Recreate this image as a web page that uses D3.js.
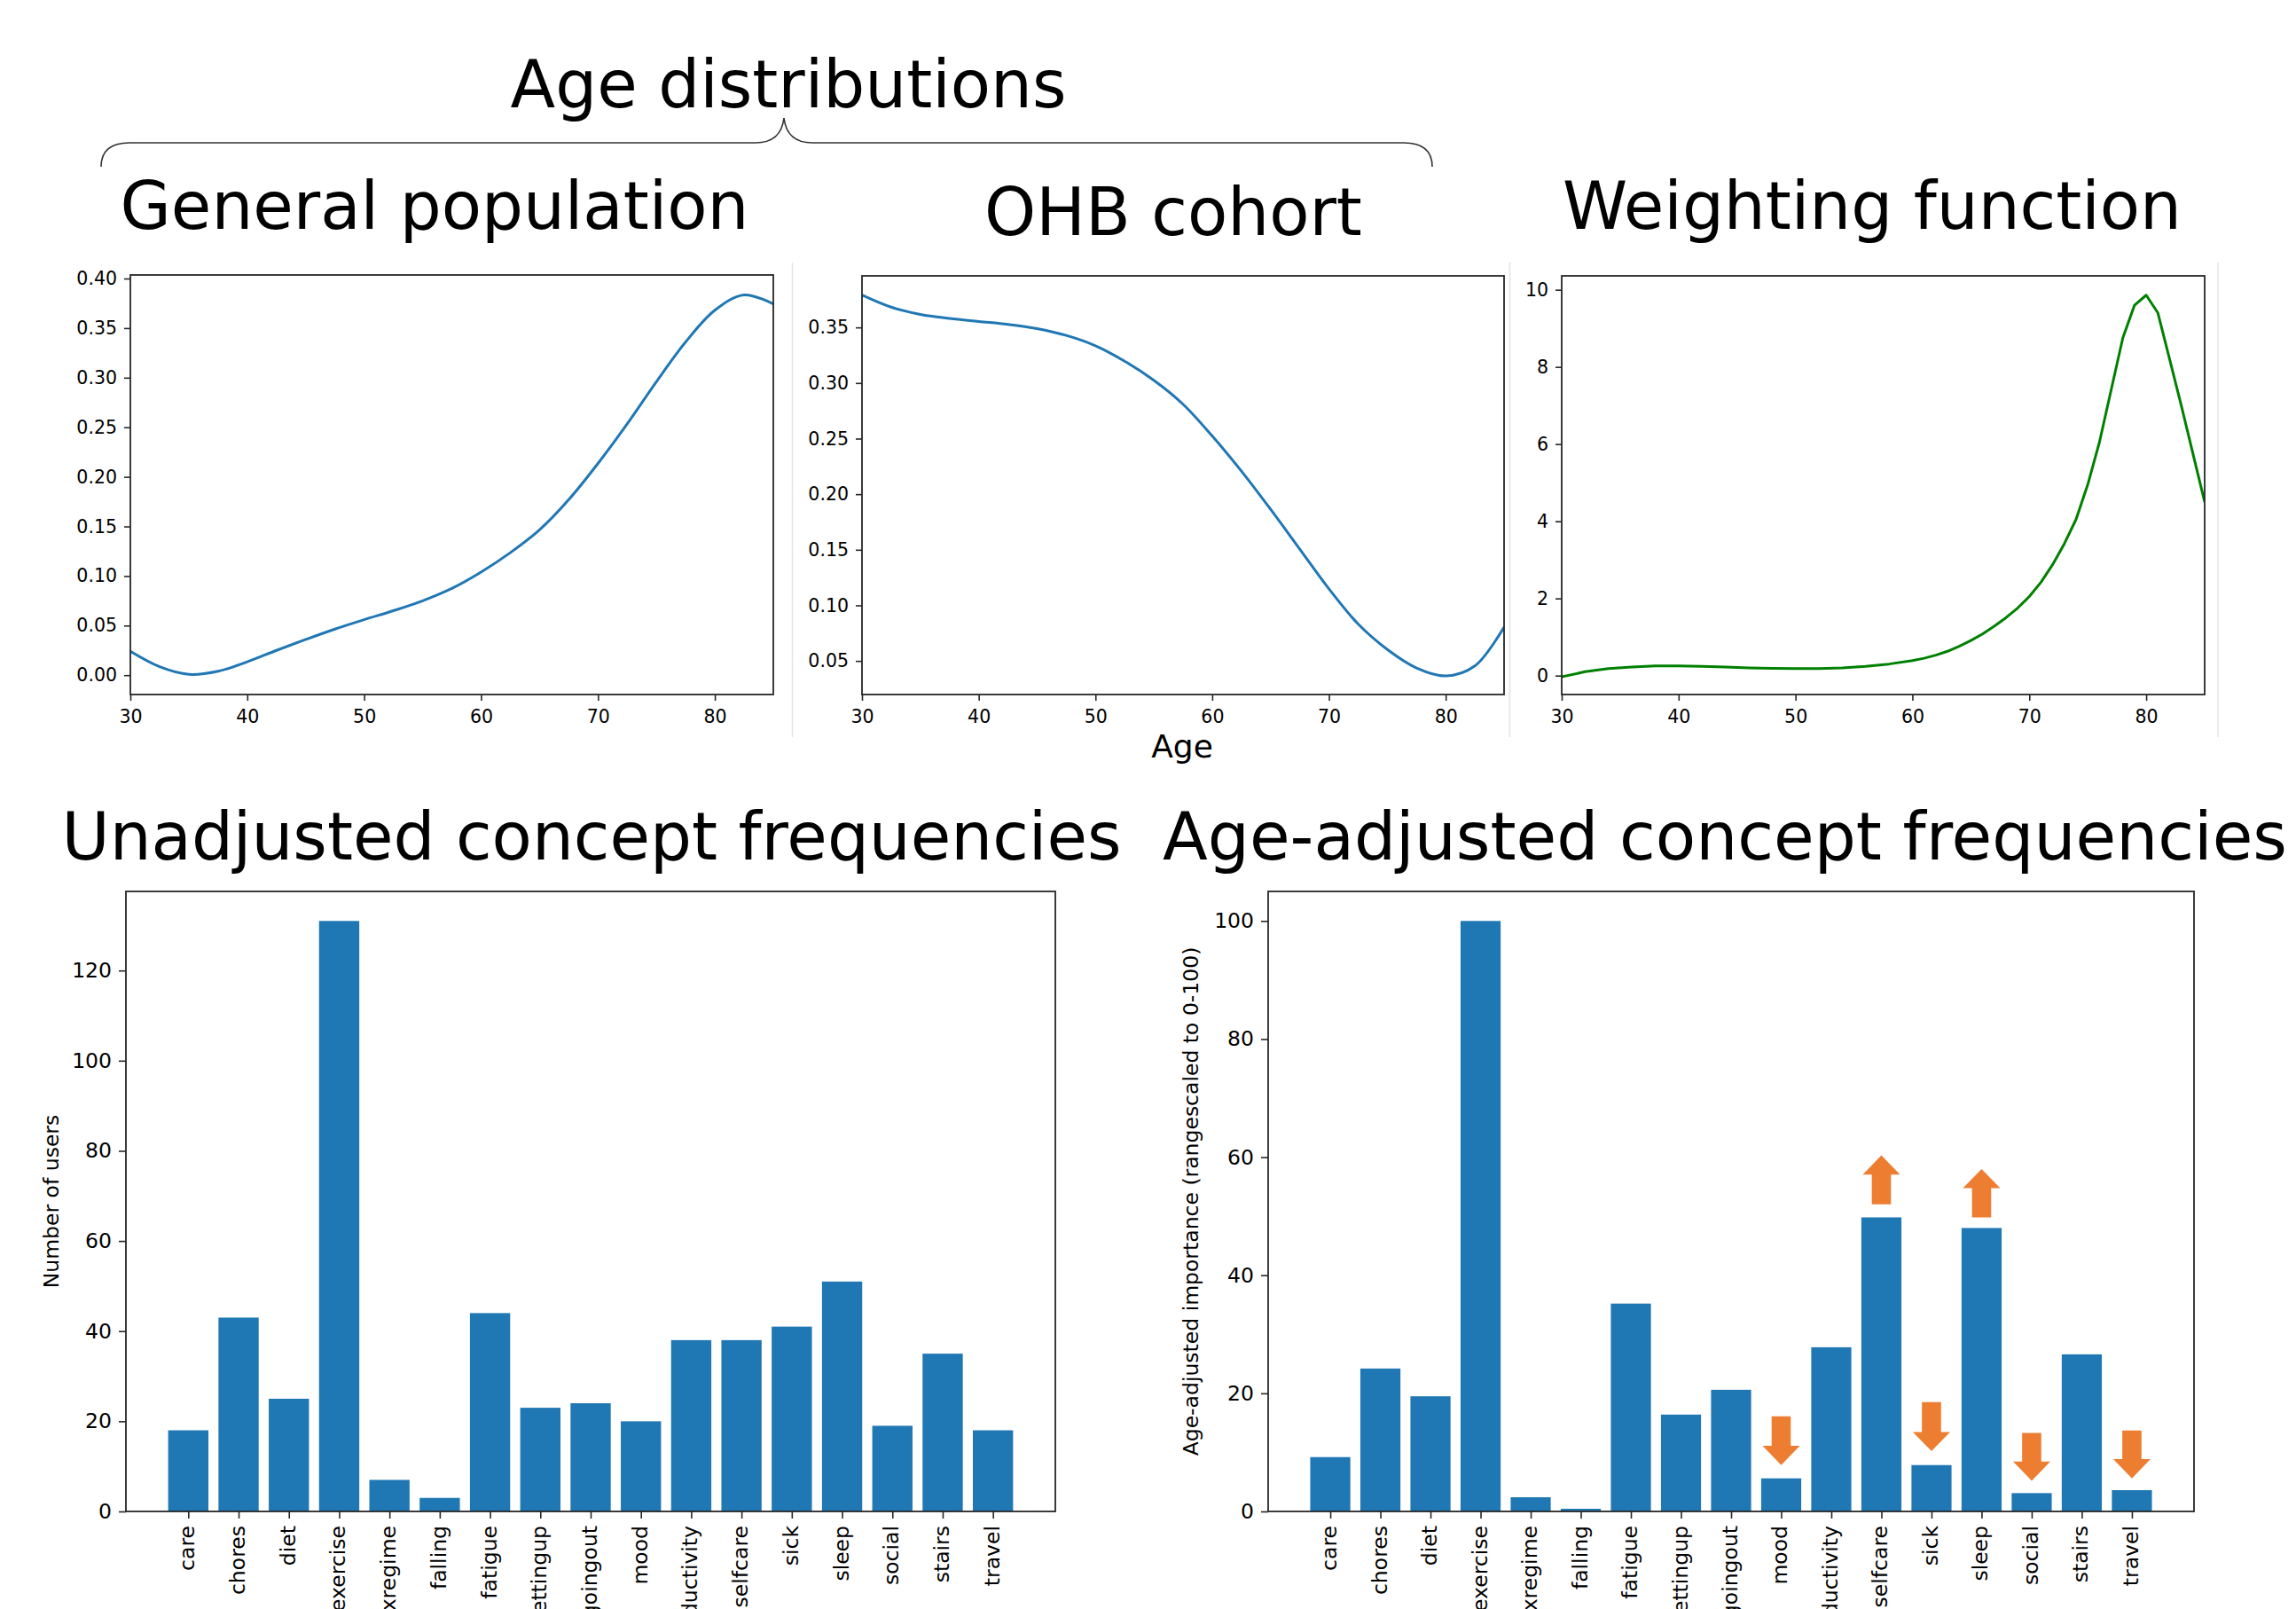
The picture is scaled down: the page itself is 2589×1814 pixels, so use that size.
<!DOCTYPE html>
<html>
<head>
<meta charset="utf-8">
<script src="https://cdn.jsdelivr.net/npm/d3@7"></script>
<style>
  html, body { margin: 0; padding: 0; background: #fff; }
  svg { display: block; }
  text { font-family: "DejaVu Sans", sans-serif; fill: #000; }
</style>
</head>
<body>
<svg id="chart" width="2589" height="1814"></svg>
<script>
// ---------------- DATA ----------------
const genPopAges = [30, 32.5, 35, 37.5, 40, 42.5, 45, 47.5, 50, 52.5, 55, 57.5, 60, 62.5, 65, 67.5, 70, 72.5, 75, 77.5, 80, 82.5, 85];
const genPopDensity = [0.024, 0.0085, 0.0008, 0.004, 0.0135, 0.025, 0.036, 0.0465, 0.056, 0.065, 0.075, 0.0875, 0.104, 0.1235, 0.1465, 0.177, 0.2135, 0.2535, 0.296, 0.336, 0.368, 0.3835, 0.3744];

const ohbAges = [30, 32.5, 35, 37.5, 40, 42.5, 45, 47.5, 50, 52.5, 55, 57.5, 60, 62.5, 65, 67.5, 70, 72.5, 75, 77.5, 80, 82.5, 85];
const ohbDensity = [0.3792, 0.3683, 0.3617, 0.3581, 0.3554, 0.3528, 0.3490, 0.3428, 0.3335, 0.3196, 0.3024, 0.2809, 0.2523, 0.2208, 0.1864, 0.1506, 0.1148, 0.0832, 0.0603, 0.0437, 0.0365, 0.0455, 0.0804];

const weightAges = [30, 32, 34, 36, 38, 40, 42, 44, 46, 48, 50, 52, 54, 56, 58, 60, 61, 62, 63, 64, 65, 66, 67, 68, 69, 70, 71, 72, 73, 74, 75, 76, 77, 78, 79, 80, 81, 82, 83, 84, 85];
const weightValues = [-0.03, 0.1, 0.18, 0.22, 0.25, 0.25, 0.24, 0.22, 0.2, 0.19, 0.18, 0.18, 0.2, 0.24, 0.3, 0.39, 0.45, 0.53, 0.63, 0.76, 0.91, 1.08, 1.28, 1.5, 1.75, 2.05, 2.42, 2.88, 3.42, 4.05, 4.95, 6.05, 7.4, 8.75, 9.6, 9.86, 9.4, 8.2, 7.0, 5.75, 4.5];

const ageTicks = [30, 40, 50, 60, 70, 80];
const genPopTicks = [0.00, 0.05, 0.10, 0.15, 0.20, 0.25, 0.30, 0.35, 0.40];
const ohbTicks = [0.05, 0.10, 0.15, 0.20, 0.25, 0.30, 0.35];
const weightTicks = [0, 2, 4, 6, 8, 10];

const concepts = ["care", "chores", "diet", "exercise", "exregime", "falling", "fatigue", "gettingup", "goingout", "mood", "productivity", "selfcare", "sick", "sleep", "social", "stairs", "travel"];
const unadjustedUsers = [18, 43, 25, 131, 7, 3, 44, 23, 24, 20, 38, 38, 41, 51, 19, 35, 18];
const adjustedImportance = [9.2, 24.2, 19.5, 100, 2.4, 0.45, 35.2, 16.4, 20.6, 5.6, 27.8, 49.8, 7.85, 48.0, 3.1, 26.6, 3.6];
const usersTicks = [0, 20, 40, 60, 80, 100, 120];
const importanceTicks = [0, 20, 40, 60, 80, 100];

// change arrows on the age-adjusted chart: concept, start value, end value
const arrowConcepts = ["mood", "selfcare", "sick", "sleep", "social", "travel"];
const arrowStart = [16.1, 52.0, 18.5, 49.8, 13.3, 13.7];
const arrowEnd = [7.85, 60.3, 10.2, 58.0, 5.2, 5.6];

// ---------------- STYLE / LAYOUT ----------------
const BLUE = "#1f77b4", GREEN = "#008000", ORANGE = "#ed7d31";
const svg = d3.select("#chart");

const P1 = {l: 147, r: 872, t: 310, b: 783};
const P2 = {l: 972, r: 1696, t: 311, b: 783};
const P3 = {l: 1761, r: 2486, t: 311, b: 783};
const B1 = {l: 142, r: 1190, t: 1005, b: 1704};
const B2 = {l: 1430, r: 2474, t: 1005, b: 1704};

// separators between the top sub-figures
[893.5, 1702.5, 2501].forEach(x => {
  svg.append("line").attr("x1", x).attr("x2", x).attr("y1", 296).attr("y2", 831)
    .attr("stroke", "#e4e4e4").attr("stroke-width", 1.5);
});

// titles
function title(txt, x, y, size, len) {
  const t = svg.append("text").attr("x", x).attr("y", y).attr("text-anchor", "middle")
    .attr("font-size", size).text(txt);
  if (len) t.attr("textLength", len).attr("lengthAdjust", "spacingAndGlyphs");
  return t;
}
title("Age distributions", 889, 121, 74);
title("General population", 490, 258, 74);
title("OHB cohort", 1323, 265, 74);
title("Weighting function", 2111, 258, 74);
title("Unadjusted concept frequencies", 667, 969, 74);
title("Age-adjusted concept frequencies", 1945, 969, 74, 1268);
title("Age", 1333, 854, 36);

// curly brace
svg.append("path")
  .attr("d", "M114,188 C114,170 124,161 146,161 L852,161 C872,161 882,150 884,133 C886,150 896,161 916,161 L1583,161 C1605,161 1615,170 1615,188")
  .attr("fill", "none").attr("stroke", "#333").attr("stroke-width", 1.6);

function spine(box) {
  svg.append("rect").attr("x", box.l).attr("y", box.t)
    .attr("width", box.r - box.l).attr("height", box.b - box.t)
    .attr("fill", "none").attr("stroke", "#262626").attr("stroke-width", 1.8);
}

function styleAxis(g, size) {
  g.select(".domain").remove();
  g.selectAll(".tick line").attr("stroke", "#262626").attr("stroke-width", 1.6);
  g.selectAll(".tick text").attr("font-size", size).attr("fill", "#000")
    .style("font-family", "'DejaVu Sans', sans-serif");
}

function linePanel(box, ages, vals, yDomain, yTicks, yFmt, color, curve) {
  const x = d3.scaleLinear().domain([30, 85]).range([box.l, box.r]);
  const y = d3.scaleLinear().domain(yDomain).range([box.b, box.t]);
  const gx = svg.append("g").attr("transform", `translate(0,${box.b})`)
    .call(d3.axisBottom(x).tickValues(ageTicks).tickSize(7).tickPadding(10).tickFormat(d3.format("d")));
  styleAxis(gx, 20.5);
  const gy = svg.append("g").attr("transform", `translate(${box.l},0)`)
    .call(d3.axisLeft(y).tickValues(yTicks).tickSize(7).tickPadding(8).tickFormat(yFmt));
  styleAxis(gy, 20.5);
  const clipId = "clip" + box.l;
  svg.append("clipPath").attr("id", clipId).append("rect")
    .attr("x", box.l).attr("y", box.t).attr("width", box.r - box.l).attr("height", box.b - box.t);
  const pts = ages.map((a, i) => [a, vals[i]]);
  svg.append("path").attr("clip-path", `url(#${clipId})`)
    .attr("d", d3.line().x(d => x(d[0])).y(d => y(d[1])).curve(curve)(pts))
    .attr("fill", "none").attr("stroke", color).attr("stroke-width", 3)
    .attr("stroke-linejoin", "round");
  spine(box);
}

linePanel(P1, genPopAges, genPopDensity, [-0.0195, 0.4036], genPopTicks, d3.format(".2f"), BLUE, d3.curveCatmullRom.alpha(0.5));
linePanel(P2, ohbAges, ohbDensity, [0.0198, 0.3964], ohbTicks, d3.format(".2f"), BLUE, d3.curveCatmullRom.alpha(0.5));
linePanel(P3, weightAges, weightValues, [-0.49, 10.36], weightTicks, d3.format("d"), GREEN, d3.curveLinear);

function barPanel(box, vals, yMax, yTicks, yLabel, labelX) {
  const n = concepts.length;
  const x = d3.scaleLinear().domain([-1.24, n - 1 + 1.24]).range([box.l, box.r]);
  const y = d3.scaleLinear().domain([0, yMax]).range([box.b, box.t]);
  svg.append("g").selectAll("rect").data(vals).join("rect")
    .attr("x", (d, i) => x(i - 0.4)).attr("width", (d, i) => x(i + 0.4) - x(i - 0.4))
    .attr("y", d => y(d)).attr("height", d => y(0) - y(d))
    .attr("fill", BLUE);
  const gx = svg.append("g").attr("transform", `translate(0,${box.b})`)
    .call(d3.axisBottom(x).tickValues(d3.range(n)).tickSize(8).tickFormat(""));
  styleAxis(gx, 23.5);
  svg.append("g").selectAll("text").data(concepts).join("text")
    .attr("transform", (d, i) => `translate(${x(i) + 7},${box.b + 16}) rotate(-90)`)
    .attr("text-anchor", "end").attr("font-size", 23.5).text(d => d);
  const gy = svg.append("g").attr("transform", `translate(${box.l},0)`)
    .call(d3.axisLeft(y).tickValues(yTicks).tickSize(8).tickPadding(8).tickFormat(d3.format("d")));
  styleAxis(gy, 23.5);
  svg.append("text").attr("transform", `translate(${labelX},${(box.t + box.b) / 2}) rotate(-90)`)
    .attr("text-anchor", "middle").attr("font-size", 23.5).text(yLabel);
  spine(box);
  return {x, y};
}

barPanel(B1, unadjustedUsers, 137.55, usersTicks, "Number of users", 66);
const s2 = barPanel(B2, adjustedImportance, 105, importanceTicks, "Age-adjusted importance (rangescaled to 0-100)", 1351);

// arrows
const headLen = 21.7, headHalf = 21, shaftHalf = 10.8;
svg.append("g").selectAll("path").data(arrowConcepts).join("path")
  .attr("d", (c, k) => {
    const cx = s2.x(concepts.indexOf(c));
    const y0 = s2.y(arrowStart[k]), y1 = s2.y(arrowEnd[k]);
    const dir = Math.sign(y1 - y0);
    const yb = y1 - dir * headLen;
    return `M${cx - shaftHalf},${y0} L${cx + shaftHalf},${y0} L${cx + shaftHalf},${yb} L${cx + headHalf},${yb} L${cx},${y1} L${cx - headHalf},${yb} L${cx - shaftHalf},${yb} Z`;
  })
  .attr("fill", ORANGE);
</script>
</body>
</html>
